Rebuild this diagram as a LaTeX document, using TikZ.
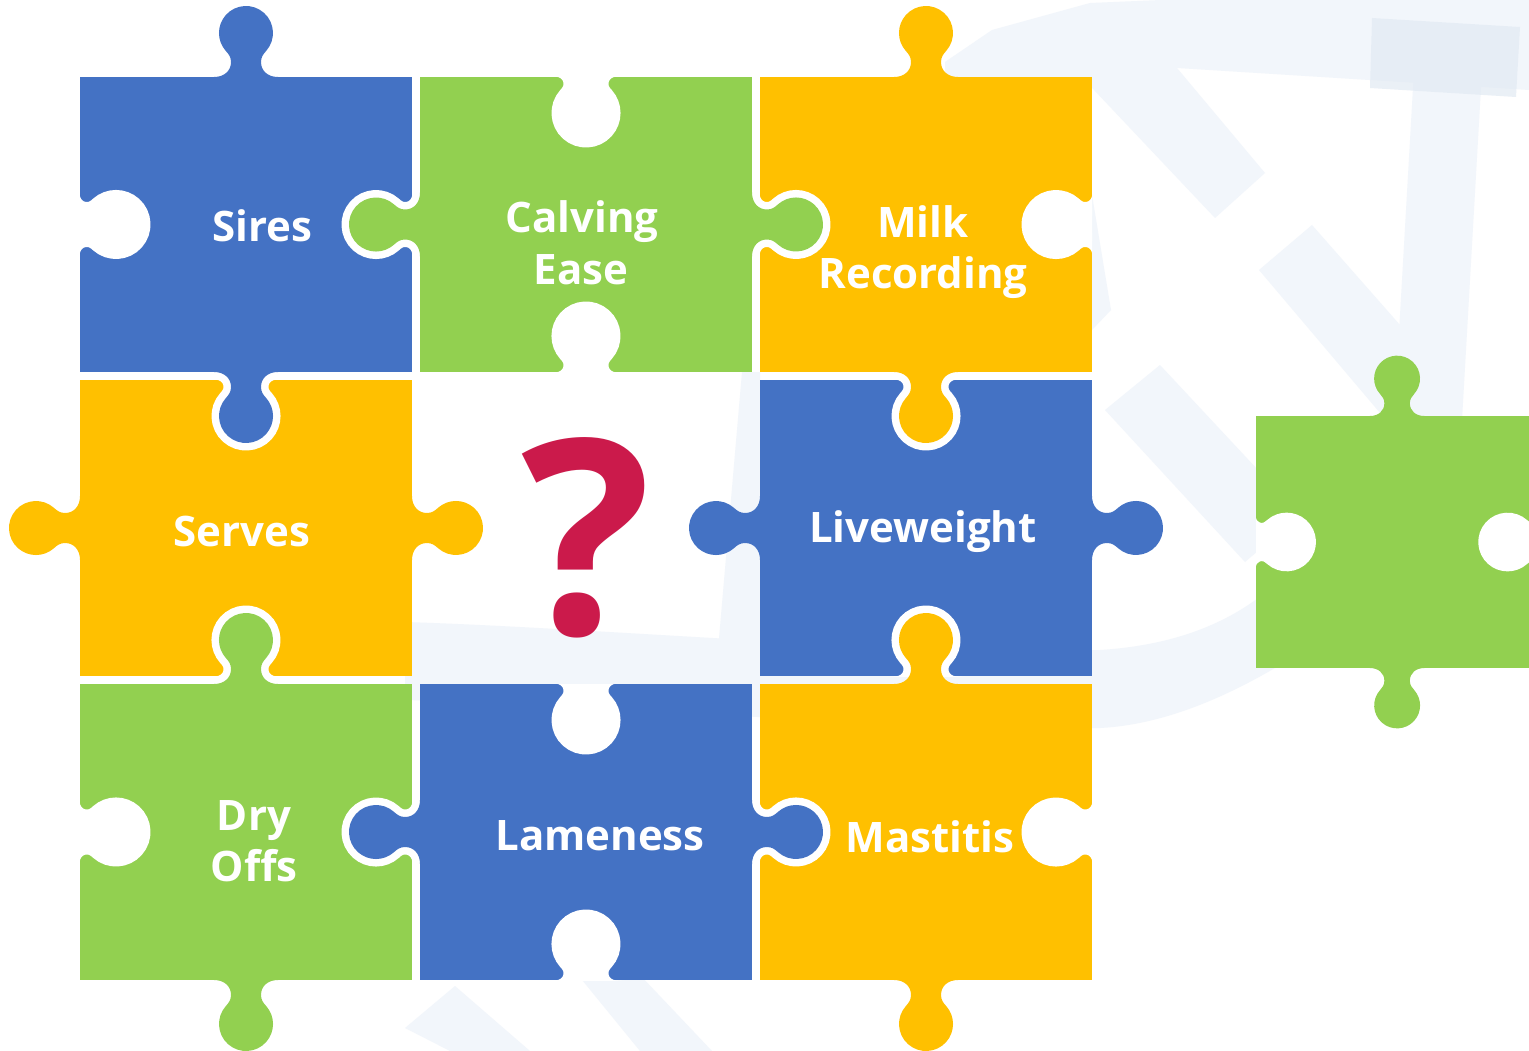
\documentclass[tikz,border=0pt]{standalone}
\usepackage{fontspec}
\setmainfont{Open Sans}
\definecolor{pblue}{HTML}{4472C4}
\definecolor{pgreen}{HTML}{92D050}
\definecolor{pyellow}{HTML}{FFC000}
\definecolor{qred}{HTML}{CB1A4B}
\definecolor{wm}{HTML}{F2F6FB}
\definecolor{wmdark}{HTML}{E2EAF3}
\def\ringw{15pt}
\newcommand{\KnobPath}[1]{\path[#1] (-32,-2) -- (-32,0) .. controls (-22,0) and (-15,6) .. (-15,15) .. controls (-15,20) and (-17.4,23) .. (-20.1,26) arc[start angle=221.8, end angle=-41.8, radius=27] .. controls (17.4,23) and (15,20) .. (15,15) .. controls (15,6) and (22,0) .. (32,0) -- (32,-2) -- cycle;}
\newcommand{\RingTab}[4]{\begin{scope}[shift={(#1,#2)}, rotate=#3]
  \begin{scope}\clip (-80,8) rectangle (80,110);\KnobPath{fill=white, draw=white, line width=\ringw}\end{scope}
  \KnobPath{fill=#4}\end{scope}}
\newcommand{\FreeTab}[4]{\begin{scope}[shift={(#1,#2)}, rotate=#3]\KnobPath{fill=#4}\end{scope}}
\newcommand{\FreeHole}[3]{\begin{scope}[shift={(#1,#2)}, rotate=#3]\clip (-80,8) rectangle (80,110);\KnobPath{fill=white, draw=white, line width=\ringw}\end{scope}}
\begin{document}
\begin{tikzpicture}[x=1pt,y=1pt,
  lab/.style={text=white, font=\fontsize{42}{50}\selectfont\bfseries, inner sep=0pt, anchor=base},
  qm/.style={text=qred, font=\fontsize{272}{300}\selectfont\bfseries, inner sep=0pt, anchor=base}]
\begin{scope}[yscale=-1]
\useasboundingbox (0,0) rectangle (1529,1051);
\fill[white] (0,0) rectangle (1529,1051);
% faint watermark
\fill[wm] (945,77) -- (945,62) -- (992,30) -- (1090,3) -- (1161,0) -- (1529,0) -- (1529,90) -- (1177,68) -- (1090,77) -- cycle;
\fill[wm] (1077,72) -- (1177,68) -- (1265,173) -- (1215,218) -- cycle;
\fill[wm] (1418,0) -- (1486,0) -- (1462,420) -- (1394,420) -- cycle;
\fill[wm] (1259,270) -- (1312,225) -- (1400,325) -- (1396,420) -- (1386,420) -- cycle;
\fill[wmdark, opacity=0.7] (1372,18) -- (1520,27) -- (1516,97) -- (1370,88) -- cycle;
\fill[wm] (1092,195) -- (1111,310) -- (1092,330) -- cycle;
\fill[wm] (1105,410) -- (1160,365) -- (1300,515) -- (1245,562) -- cycle;
\fill[wm] (405,622) .. controls (600,628) and (900,655) .. (1100,650) .. controls (1180,645) and (1230,620) .. (1262,595) -- (1275,668) .. controls (1220,700) and (1160,725) .. (1100,728) .. controls (900,730) and (600,705) .. (405,700) -- cycle;
\fill[wm] (742,372) -- (760,372) -- (760,650) -- (718,650) -- cycle;
\fill[wm] (405,1028) -- (455,986) -- (530,1051) -- (450,1051) -- cycle;
\fill[wm] (578,975) -- (640,975) -- (712,1051) -- (640,1051) -- cycle;
% pieces
\fill[pblue] (80,77) rectangle (412,372);
\fill[pgreen] (420,77) rectangle (752,372);
\fill[pyellow] (760,77) rectangle (1092,372);
\fill[pyellow] (80,380) rectangle (412,676);
\fill[pblue] (760,380) rectangle (1092,676);
\fill[pgreen] (80,684) rectangle (412,980);
\fill[pblue] (420,684) rectangle (752,980);
\fill[pyellow] (760,684) rectangle (1092,980);
% free holes
\FreeHole{72}{224.5}{-90}
\FreeHole{586}{69}{0}
\FreeHole{586}{380}{180}
\FreeHole{1100}{224.5}{90}
\FreeHole{72}{832}{-90}
\FreeHole{586}{676}{0}
\FreeHole{586}{988}{180}
\FreeHole{1100}{832}{90}
% interlocking tabs
\RingTab{420}{224.5}{90}{pgreen}
\RingTab{246}{372}{0}{pblue}
\RingTab{752}{224.5}{-90}{pgreen}
\RingTab{926}{372}{0}{pyellow}
\RingTab{246}{684}{180}{pgreen}
\RingTab{926}{684}{180}{pyellow}
\RingTab{420}{832}{90}{pblue}
\RingTab{752}{832}{-90}{pblue}
% free tabs
\FreeTab{246}{77}{180}{pblue}
\FreeTab{926}{77}{180}{pyellow}
\FreeTab{80}{528}{90}{pyellow}
\FreeTab{412}{528}{-90}{pyellow}
\FreeTab{760}{528}{90}{pblue}
\FreeTab{1092}{528}{-90}{pblue}
\FreeTab{246}{980}{0}{pgreen}
\FreeTab{926}{980}{0}{pyellow}
% separate green piece
\begin{scope}[shift={(1256,416)}, scale=0.85]
\def\ringw{12.75pt}
\fill[pgreen] (0,0) rectangle (332,296.5);
\FreeHole{-8}{148.25}{-90}
\FreeHole{340}{148.25}{90}
\FreeTab{166}{0}{180}{pgreen}
\FreeTab{166}{296.5}{0}{pgreen}
\end{scope}
% labels
\node[lab] (sires) at (262,242) {Sires};
\node[lab] (calving) at (582,233) {Calving};
\node[lab] (ease) at (581,284) {Ease};
\node[lab] (milk) at (923,237) {Milk};
\node[lab] (recording) at (923,288) {Recording};
\node[lab] (serves) at (242,546) {Serves};
\node[lab] (liveweight) at (923,542) {Liveweight};
\node[lab] (dry) at (254,830) {Dry};
\node[lab] (offs) at (254,881) {Offs};
\node[lab] (lameness) at (600,850) {Lameness};
\node[lab] (mastitis) at (930,852) {Mastitis};
\node[qm] (qmark) at (586,634) {?};
\end{scope}
\end{tikzpicture}
\end{document}
